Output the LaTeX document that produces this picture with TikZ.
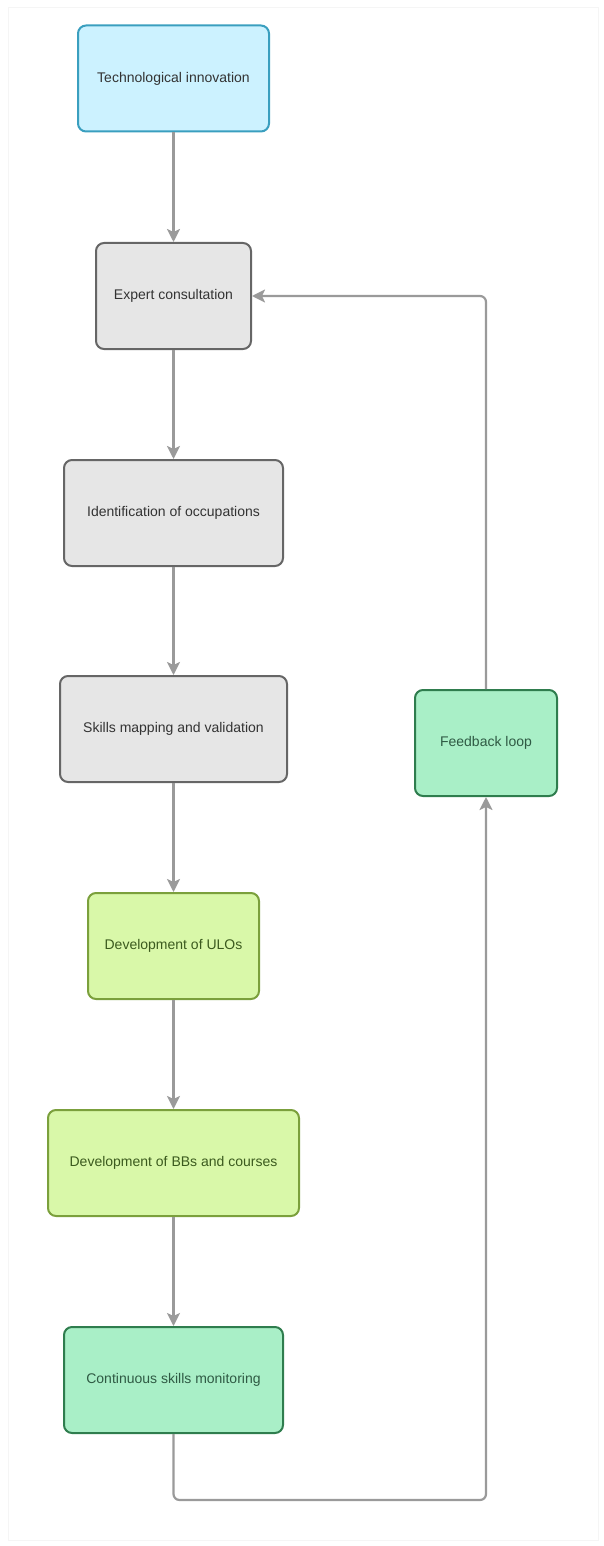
\documentclass[tikz,border=0pt]{standalone}
\usepackage{fontspec}
\setmainfont{Liberation Sans}
\usetikzlibrary{arrows.meta}
\definecolor{techfill}{HTML}{CCF2FF}
\definecolor{techline}{HTML}{3A9FBF}
\definecolor{stepfill}{HTML}{E6E6E6}
\definecolor{stepline}{HTML}{666666}
\definecolor{limefill}{HTML}{D9F8A9}
\definecolor{limeline}{HTML}{7BA03C}
\definecolor{limetext}{HTML}{3B5A1E}
\definecolor{mintfill}{HTML}{A9EFC7}
\definecolor{mintline}{HTML}{2F7D4E}
\definecolor{minttext}{HTML}{2F5A44}
\definecolor{flowgray}{HTML}{9A9A9A}

\begin{document}
\begin{tikzpicture}[x=1pt,y=-1pt,
    box/.style={rounded corners=8pt, line width=2pt, minimum height=106pt,
                font=\fontsize{14}{16}\selectfont, text=black!80},
    techbox/.style={box, fill=techfill, draw=techline},
    graybox/.style={box, fill=stepfill, draw=stepline},
    limebox/.style={box, fill=limefill, draw=limeline, text=limetext},
    mintbox/.style={box, fill=mintfill, draw=mintline, text=minttext},
    flow/.style={draw=flowgray, line width=2.2pt, -{Stealth[length=13pt,width=13pt,inset=3pt]}}]
    \useasboundingbox (0,0) rectangle (603,1546);
    \draw[black!4, line width=0.8pt] (8,7) rectangle (598,1540);
    % main column
    \node[techbox, minimum width=191pt] (tech) at (173.5,78.5) {Technological innovation};
    \node[graybox, minimum width=155pt] (expert) at (173.5,296) {Expert consultation};
    \node[graybox, minimum width=219pt] (occup) at (173.5,513) {Identification of occupations};
    \node[graybox, minimum width=227pt] (skills) at (173.5,729) {Skills mapping and validation};
    \node[limebox, minimum width=171pt] (ulo) at (173.5,946) {Development of ULOs};
    \node[limebox, minimum width=251pt] (bbs) at (173.5,1163) {Development of BBs and courses};
    \node[mintbox, minimum width=219pt] (monitor) at (173.5,1380) {Continuous skills monitoring};
    % feedback
    \node[mintbox, minimum width=142pt] (feedback) at (486,743) {Feedback loop};

    \draw[flow] (tech) -- (expert);
    \draw[flow] (expert) -- (occup);
    \draw[flow] (occup) -- (skills);
    \draw[flow] (skills) -- (ulo);
    \draw[flow] (ulo) -- (bbs);
    \draw[flow] (bbs) -- (monitor);
    \draw[flow, rounded corners=6pt] (monitor.south) -- ++(0,66) -| (feedback.south);
    \draw[flow, rounded corners=6pt] (feedback.north) |- (expert.east);
\end{tikzpicture}
\end{document}
